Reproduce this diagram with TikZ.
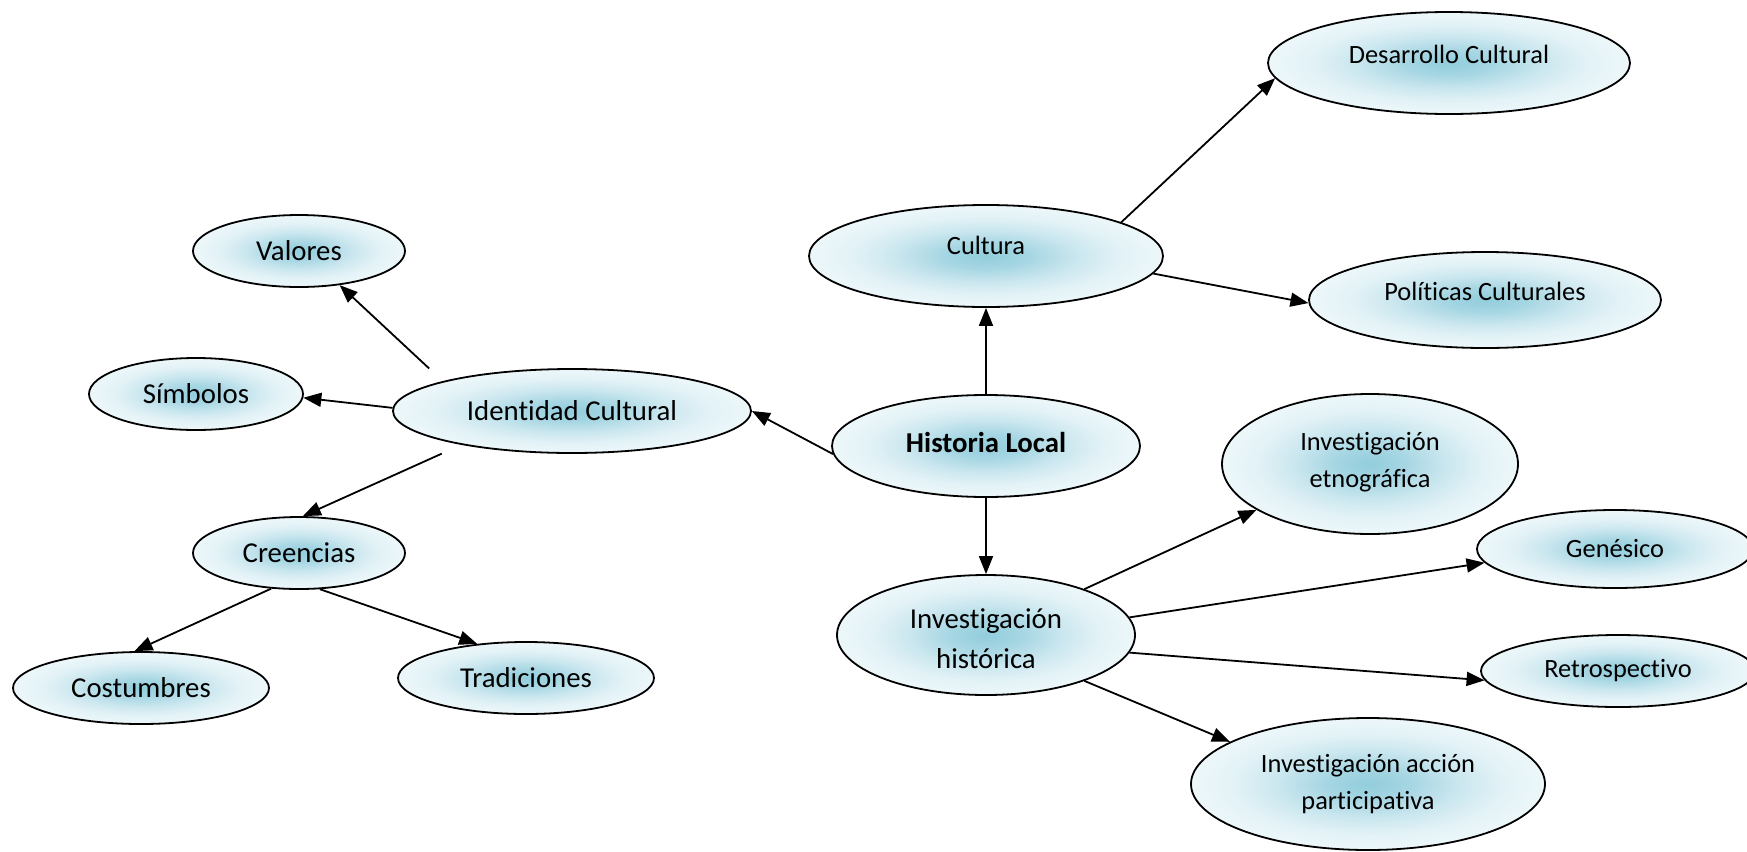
\documentclass[tikz,border=0pt]{standalone}
\usepackage{fontspec}
\setmainfont{Carlito}[Ligatures=NoCommon]
\usetikzlibrary{arrows.meta,shapes.geometric}
\definecolor{bubA}{HTML}{92CDDC}
\definecolor{bubB}{HTML}{A6D6E3}
\definecolor{bubC}{HTML}{CBE7EF}
\definecolor{bubD}{HTML}{E2F2F6}
\definecolor{bubE}{HTML}{EDF7FA}
\pgfdeclareradialshading{bubble}{\pgfpoint{0bp}{0bp}}{color(0bp)=(bubA); color(6bp)=(bubB); color(13bp)=(bubC); color(19bp)=(bubD); color(25bp)=(bubE); color(50bp)=(bubE)}
\begin{document}
\begin{tikzpicture}[x=0.5pt,y=-0.5pt,
  bub/.style={ellipse, draw, line width=0.9pt, shading=bubble, inner sep=0pt},
  big/.style={font=\fontsize{14.4}{20}\selectfont, align=center},
  small/.style={font=\fontsize{13.2}{18.5}\selectfont, align=center},
  arr/.style={-{Triangle[length=9pt,width=7pt]}, line width=0.9pt}]
\path[use as bounding box] (0,0) rectangle (1747,852);
% right-upper branch
\node[bub, minimum width=181pt, minimum height=51pt, label={[small,yshift=4.5pt]center:Desarrollo Cultural}] (desarrollo) at (1449,63) {};
\node[bub, minimum width=177pt, minimum height=51pt, label={[small,yshift=5.5pt]center:Cultura}] (cultura) at (986,256) {};
\node[bub, minimum width=176pt, minimum height=48pt, label={[small,yshift=4.5pt]center:Políticas Culturales}] (politicas) at (1485,300) {};
% left branch
\node[bub, minimum width=106pt, minimum height=36pt, label={[big]center:Valores}] (valores) at (299,251) {};
\node[bub, minimum width=107pt, minimum height=36pt, label={[big]center:Símbolos}] (simbolos) at (196,394) {};
\node[bub, minimum width=179pt, minimum height=42pt, label={[big]center:Identidad Cultural}] (identidad) at (572,411) {};
\node[bub, minimum width=106pt, minimum height=36pt, label={[big]center:Creencias}] (creencias) at (299,553) {};
\node[bub, minimum width=128pt, minimum height=36pt, label={[big]center:Costumbres}] (costumbres) at (141,688) {};
\node[bub, minimum width=128pt, minimum height=36pt, label={[big]center:Tradiciones}] (tradiciones) at (526,678) {};
% centre
\node[bub, minimum width=154pt, minimum height=51pt, label={[big,yshift=2pt]center:\textbf{Historia Local}}] (historia) at (986,446) {};
\node[bub, minimum width=149pt, minimum height=60pt, label={[big,yshift=-2pt]center:Investigación\\histórica}] (historica) at (986,635) {};
% right-lower branch
\node[bub, minimum width=148pt, minimum height=70pt, label={[small,yshift=1pt]center:Investigación\\etnográfica}] (etno) at (1370,464) {};
\node[bub, minimum width=138pt, minimum height=39pt, label={[small]center:Genésico}] (genesico) at (1615,549) {};
\node[bub, minimum width=137pt, minimum height=36pt, label={[small]center:Retrospectivo}] (retro) at (1618,671) {};
\node[bub, minimum width=177pt, minimum height=66pt, label={[small]center:Investigación acción\\participativa}] (accion) at (1368,784) {};
% connectors
\draw[arr] (historia.north) -- (cultura.south);
\draw[arr] (cultura.14) -- (desarrollo.185);
\draw[arr] (cultura.354) -- (politicas.181);
\draw[arr] (historia.183) -- (identidad.east);
\draw[arr, shorten <=9.3pt] (identidad.167) -- (valores.320);
\draw[arr] (identidad.179) -- (simbolos.358);
\draw[arr, shorten <=10.75pt] (identidad.197) -- (creencias.84);
\draw[arr] (creencias.232) -- (costumbres.100);
\draw[arr] (creencias.300) -- (tradiciones.145);
\draw[arr] (historia.south) -- (historica.north);
\draw[arr] (historica.25) -- (etno.202);
\draw[arr] (historica.7) -- (genesico.186);
\draw[arr] (historica.353) -- (retro.184);
\draw[arr] (historica.335) -- (accion.163);
\end{tikzpicture}
\end{document}
